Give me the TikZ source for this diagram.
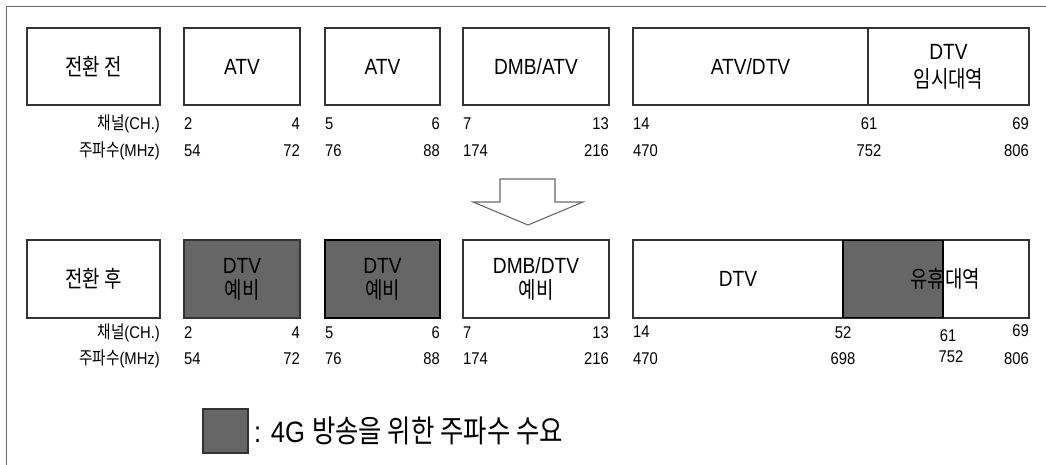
\documentclass[tikz,border=0pt]{standalone}
\usepackage{fontspec}
\setmainfont[FakeStretch=0.87]{Liberation Sans}
\newfontfamily\kr[FakeStretch=0.82,Scale=1.05]{Noto Sans CJK KR}
\definecolor{gfill}{HTML}{666666}
\definecolor{lc}{HTML}{333333}
\definecolor{framec}{HTML}{6A6A6A}
\begin{document}
\begin{tikzpicture}[x=1pt,y=-1pt,
  box/.style={draw=lc,line width=1.4pt,fill=white,minimum height=77pt,inner sep=0pt,align=center,font=\fontsize{22}{25}\selectfont},
  gbox/.style={box,fill=gfill},
  txt/.style={inner sep=0pt,align=center,font=\fontsize{22}{25}\selectfont},
  num/.style={inner sep=0pt,font=\fontsize{17}{19}\selectfont,text height=12pt,text depth=0pt},
  lab/.style={num,anchor=east},
  legtext/.style={inner sep=0pt,anchor=west,font=\fontsize{29.5}{32}\selectfont},
  framel/.style={draw=framec,line width=1pt}]
\useasboundingbox (0,0) rectangle (1046,465);
\fill[white] (0,0) rectangle (1046,465);
% frame
\coordinate (f1) at (6,465);
\coordinate (f2) at (6,7);
\coordinate (f3) at (1046,7);
\draw[framel] (f1) -- (f2) -- (f3);

% ---------- top row ----------
\node[box,minimum width=133pt] (t1) at (93.5,66.5) {\kr 전환 전};
\node[box,minimum width=116pt] (t2) at (242,66.5) {ATV};
\node[box,minimum width=115pt] (t3) at (382.5,66.5) {ATV};
\node[box,minimum width=146pt] (t4) at (536,66.5) {DMB/ATV};
\node[box,minimum width=235pt] (t5a) at (750.5,66.5) {ATV/DTV};
\node[box,minimum width=161pt] (t5b) at (948.5,66.5) {DTV\\[3pt]{\kr 임시대역}};

\node[lab] (tl1) at (160,124) {{\kr 채널}(CH.)};
\node[lab] (tl2) at (160,151) {{\kr 주파수}(MHz)};
\node[num,anchor=west] (tc2) at (184,124) {2};
\node[num,anchor=east] (tc4) at (300,124) {4};
\node[num,anchor=west] (tc5) at (325,124) {5};
\node[num,anchor=east] (tc6) at (440,124) {6};
\node[num,anchor=west] (tc7) at (463,124) {7};
\node[num,anchor=east] (tc13) at (609,124) {13};
\node[num,anchor=west] (tc14) at (633,124) {14};
\node[num] (tc61) at (869,124) {61};
\node[num,anchor=east] (tc69) at (1029,124) {69};
\node[num,anchor=west] (tf54) at (184,151) {54};
\node[num,anchor=east] (tf72) at (300,151) {72};
\node[num,anchor=west] (tf76) at (325,151) {76};
\node[num,anchor=east] (tf88) at (440,151) {88};
\node[num,anchor=west] (tf174) at (463,151) {174};
\node[num,anchor=east] (tf216) at (609,151) {216};
\node[num,anchor=west] (tf470) at (633,151) {470};
\node[num] (tf752) at (869,151) {752};
\node[num,anchor=east] (tf806) at (1029,151) {806};

% ---------- arrow ----------
\draw[draw=framec,line width=1.1pt,fill=white,line join=miter]
  (500,179) -- (555,179) -- (555,202) -- (583,202) -- (528,225) -- (473,202) -- (500,202) -- cycle;

% ---------- bottom row ----------
\node[box,minimum width=133pt,minimum height=78pt] (b1) at (93.5,279) {\kr 전환 후};
\node[gbox,minimum width=116pt,minimum height=78pt] (b2) at (242,279) {DTV\\{\kr 예비}};
\node[gbox,minimum width=115pt,minimum height=78pt,draw=black,line width=1.8pt] (b3) at (382.5,279) {DTV\\{\kr 예비}};
\node[box,minimum width=146pt,minimum height=78pt] (b4) at (536,279) {DMB/DTV\\{\kr 예비}};
\node[box,minimum width=396pt,minimum height=78pt] (b5) at (831,279) {};
\node[box,fill=gfill,draw=black,line width=1.8pt,minimum width=100pt,minimum height=77pt] (b5g) at (893,279) {};
\node[txt] (b5t) at (738,279) {DTV};
\node[txt] (b5u) at (945,279) {\kr 유휴대역};

\node[lab] (bl1) at (160,332) {{\kr 채널}(CH.)};
\node[lab] (bl2) at (160,358) {{\kr 주파수}(MHz)};
\node[num,anchor=west] (bc2) at (184,332) {2};
\node[num,anchor=east] (bc4) at (300,332) {4};
\node[num,anchor=west] (bc5) at (325,332) {5};
\node[num,anchor=east] (bc6) at (440,332) {6};
\node[num,anchor=west] (bc7) at (463,332) {7};
\node[num,anchor=east] (bc13) at (609,332) {13};
\node[num,anchor=west] (bc14) at (633,331) {14};
\node[num] (bc52) at (843,332) {52};
\node[num] (bc61) at (948,335) {61};
\node[num,anchor=east] (bc69) at (1029,330) {69};
\node[num,anchor=west] (bf54) at (184,358) {54};
\node[num,anchor=east] (bf72) at (300,358) {72};
\node[num,anchor=west] (bf76) at (325,358) {76};
\node[num,anchor=east] (bf88) at (440,358) {88};
\node[num,anchor=west] (bf174) at (463,358) {174};
\node[num,anchor=east] (bf216) at (609,358) {216};
\node[num,anchor=west] (bf470) at (633,358) {470};
\node[num] (bf698) at (843,358) {698};
\node[num] (bf752) at (951,356) {752};
\node[num,anchor=east] (bf806) at (1029,358) {806};

% ---------- legend ----------
\node[draw=lc,line width=1.4pt,fill=gfill,minimum width=45pt,minimum height=44pt,inner sep=0pt] (lg) at (225.5,431) {};
\node[legtext] (lgt) at (254,431) {: 4G {\kr 방송을 위한 주파수 수요}};
\end{tikzpicture}
\end{document}
